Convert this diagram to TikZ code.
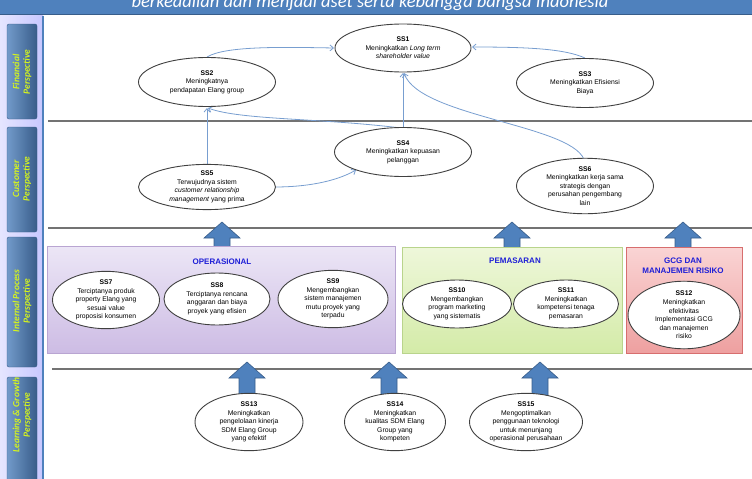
\documentclass[tikz,border=0pt]{standalone}
\usepackage{fontspec}
\setmainfont{Liberation Sans}
\newfontfamily\calfont{Carlito}
\usepackage{tikz}
\usetikzlibrary{arrows.meta,shapes.geometric}
\definecolor{titleblue}{RGB}{79,129,189}
\definecolor{titledark}{RGB}{56,93,138}
\definecolor{tabtext}{RGB}{214,245,30}
\definecolor{linkblue}{RGB}{120,158,208}
\definecolor{groupblue}{RGB}{30,30,215}
\definecolor{rulegray}{RGB}{115,115,115}
\definecolor{opstop}{RGB}{236,230,246}
\definecolor{opsbot}{RGB}{205,188,228}
\definecolor{opsline}{RGB}{185,165,210}
\definecolor{mkttop}{RGB}{238,247,218}
\definecolor{mktbot}{RGB}{212,235,168}
\definecolor{mktline}{RGB}{185,212,140}
\definecolor{gcgtop}{RGB}{250,212,212}
\definecolor{gcgbot}{RGB}{238,160,160}
\definecolor{gcgline}{RGB}{215,110,110}
\newcommand{\ssid}[1]{\textbf{#1}\\}
\tikzset{
  goal/.style={ellipse, draw=black!75, line width=0.9pt, fill=white, inner sep=0pt,
    align=center, font=\fontsize{6.8}{8.6}\selectfont},
  link/.style={draw=linkblue, line width=0.8pt, -{Straight Barb[length=3.5pt,width=6pt]}},
  tab/.style={rounded corners=2pt, draw=titledark, left color=titleblue!80!white, right color=titledark},
  tablabel/.style={rotate=90, align=center, text=tabtext,
    font=\calfont\bfseries\itshape\fontsize{9.5}{10.5}\selectfont},
  lane/.style={draw=rulegray, line width=1.1pt},
  bigarrow/.style={fill=titleblue, draw=titledark, line width=0.6pt},
  grouplabel/.style={text=groupblue, align=center, font=\bfseries\fontsize{8}{10}\selectfont}
}

\begin{document}
\begin{tikzpicture}[x=1pt, y=-1pt]
  \useasboundingbox (0,0) rectangle (752,479);
  \begin{scope}
    \clip (0,0) rectangle (752,479);
    \fill[titleblue] (0,0) rectangle (752,14);
    \draw[titledark, line width=1.5pt] (0,14.5) -- (752,14.5);
    \node[anchor=base, text=white, font=\calfont\itshape\fontsize{18.5}{20}\selectfont] (vision)
      at (370,7.5) {berkeadilan dan menjadi aset serta kebangga bangsa Indonesia};
  \end{scope}

  % perspective tabs
  \fill[left color=blue!10!white, right color=blue!22!white] (0,15.5) rectangle (43,479);
  \draw[titleblue, line width=1.4pt] (43,15.5) -- (43,479);
  \draw[tab] (7,24) rectangle (37,119);
  \draw[tab] (7,127) rectangle (37,232);
  \draw[tab] (7,237) rectangle (37,367);
  \draw[tab] (7,377) rectangle (37,485);
  \node[tablabel] (fin) at (22,72) {Financial\\Perspective};
  \node[tablabel] (cus) at (22,179) {Customer\\Perspective};
  \node[tablabel] (ipp) at (22,301) {Internal Process\\Perspective};
  \node[tablabel] (lgp) at (22,415) {Learning \& Growth\\Perspective};

  \draw[lane] (48,121) -- (752,121);
  \draw[lane] (48,228) -- (752,228);
  \draw[lane] (52,369) -- (752,369);

  \foreach \ax/\atip/\abot in {222/222/249, 512/222/249, 683/222/249, 247/362/397, 389/362/397, 540/362/397}
    \draw[bigarrow] (\ax,\atip) -- (\ax+18,\atip+16) -- (\ax+8,\atip+16) -- (\ax+8,\abot)
      -- (\ax-8,\abot) -- (\ax-8,\atip+16) -- (\ax-18,\atip+16) -- cycle;

  % process groups
  \draw[draw=opsline, top color=opstop, bottom color=opsbot, line width=0.8pt] (47,246) rectangle (395,353);
  \draw[draw=mktline, top color=mkttop, bottom color=mktbot, line width=0.8pt] (402,247) rectangle (622,353);
  \draw[draw=gcgline, top color=gcgtop, bottom color=gcgbot, line width=0.8pt] (626,247) rectangle (742,353);
  \node[grouplabel] (ops) at (222,262) {OPERASIONAL};
  \node[grouplabel] (mkt) at (515,261) {PEMASARAN};
  \node[grouplabel] (gcg) at (683,266) {GCG DAN\\MANAJEMEN RISIKO};

  \draw[link] (207,57) .. controls (225,46) and (280,47) .. (334,48);
  \draw[link] (585,58) .. controls (565,49) and (530,47) .. (472,47);
  \draw[link] (403,128) -- (403,73);
  \draw[link] (401,128) .. controls (320,118) and (240,120) .. (208,108);
  \draw[link] (207,165) -- (207,108);
  \draw[link] (275,187) .. controls (305,187) and (335,182) .. (356,170);
  \draw[link] (585,163) .. controls (580,125) and (420,118) .. (404,73);

  \node[goal, minimum width=136pt, minimum height=48pt] (ss1) at (403,48)
    {\ssid{SS1}Meningkatkan \textit{Long term}\\\textit{shareholder value}};
  \node[goal, minimum width=137pt, minimum height=49pt] (ss2) at (207,82)
    {\ssid{SS2}Meningkatnya\\pendapatan Elang group};
  \node[goal, minimum width=137pt, minimum height=49pt] (ss3) at (585,83)
    {\ssid{SS3}Meningkatkan Efisiensi\\Biaya};
  \node[goal, minimum width=137pt, minimum height=49pt] (ss4) at (403,152)
    {\ssid{SS4}Meningkatkan kepuasan\\pelanggan};
  \node[goal, minimum width=137pt, minimum height=45pt] (ss5) at (207,187)
    {\ssid{SS5}Terwujudnya sistem\\\textit{customer relationship}\\\textit{management} yang prima};
  \node[goal, minimum width=137pt, minimum height=46pt] (ss6) at (585,186)
    {\ssid{SS6}Meningkatkan kerja sama\\strategis dengan\\perusahan pengembang\\lain};
  \node[goal, minimum width=107pt, minimum height=52pt] (ss7) at (106,300)
    {\ssid{SS7}Terciptanya produk\\property Elang yang\\sesuai value\\proposisi konsumen};
  \node[goal, minimum width=106pt, minimum height=52pt] (ss8) at (217,299)
    {\ssid{SS8}Terciptanya rencana\\anggaran dan biaya\\proyek yang efisien};
  \node[goal, minimum width=110pt, minimum height=52pt] (ss9) at (333,299)
    {\ssid{SS9}Mengembangkan\\sistem manajemen\\mutu proyek yang\\terpadu};
  \node[goal, minimum width=109pt, minimum height=48pt] (ss10) at (457,304)
    {\ssid{SS10}Mengembangkan\\program marketing\\yang sistematis};
  \node[goal, minimum width=105pt, minimum height=48pt] (ss11) at (566,304)
    {\ssid{SS11}Meningkatkan\\kompetensi tenaga\\pemasaran};
  \node[goal, minimum width=112pt, minimum height=56pt] (ss12) at (684,315)
    {\ssid{SS12}Meningkatkan\\efektivitas\\Implementasi GCG\\dan manajemen\\risiko};
  \node[goal, minimum width=108pt, minimum height=55pt] (ss13) at (249,422)
    {\ssid{SS13}Meningkatkan\\pengelolaan kinerja\\SDM Elang Group\\yang efektif};
  \node[goal, minimum width=101pt, minimum height=55pt] (ss14) at (395,422)
    {\ssid{SS14}Meningkatkan\\kualitas SDM Elang\\Group yang\\kompeten};
  \node[goal, minimum width=113pt, minimum height=55pt] (ss15) at (526,422)
    {\ssid{SS15}Mengoptimalkan\\penggunaan teknologi\\untuk menunjang\\operasional perusahaan};
\end{tikzpicture}
\end{document}
